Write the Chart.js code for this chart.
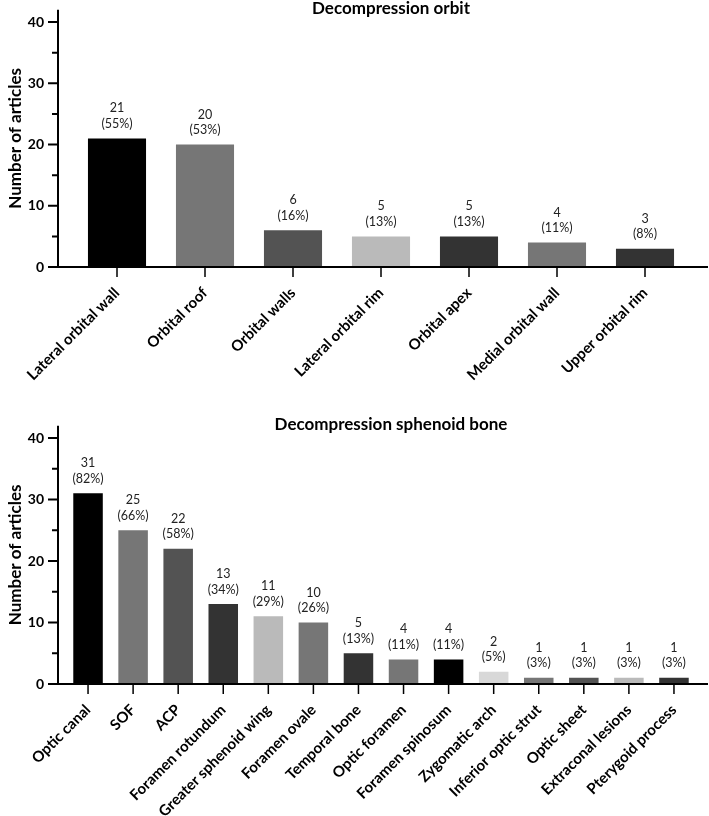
<!DOCTYPE html>
<html><head><meta charset="utf-8">
<script src="https://cdn.jsdelivr.net/npm/chart.js@4/dist/chart.umd.min.js"></script>
<style>
html,body{margin:0;padding:0;background:#fff;}
#w1{position:absolute;left:0;top:0;width:709px;height:400px;}
#w2{position:absolute;left:0;top:400px;width:709px;height:416px;}
</style></head><body>
<div id="w1"><canvas id="c1" width="709" height="400"></canvas></div>
<div id="w2"><canvas id="c2" width="709" height="416"></canvas></div>
<script>
const orbitCategories = ['Lateral orbital wall','Orbital roof','Orbital walls','Lateral orbital rim','Orbital apex','Medial orbital wall','Upper orbital rim'];
const orbitCounts = [21,20,6,5,5,4,3];
const orbitPercents = [55,53,16,13,13,11,8];
const sphenoidCategories = ['Optic canal','SOF','ACP','Foramen rotundum','Greater sphenoid wing','Foramen ovale','Temporal bone','Optic foramen','Foramen spinosum','Zygomatic arch','Inferior optic strut','Optic sheet','Extraconal lesions','Pterygoid process'];
const sphenoidCounts = [31,25,22,13,11,10,5,4,4,2,1,1,1,1];
const sphenoidPercents = [82,66,58,34,29,26,13,11,11,5,3,3,3,3];
const yTickValues = [0,10,20,30,40];
const yMinorTickValues = [5,15,25,35];
const yAxisMax = 42;
const orbitColors = ['#000000','#767676','#535353','#bababa','#333333','#767676','#333333'];
const sphenoidColors = ['#000000','#767676','#535353','#333333','#bababa','#767676','#333333','#767676','#000000','#d8d8d8','#767676','#535353','#bababa','#333333'];

const FONT = 'Lato, "Open Sans", sans-serif';

function makePlugin(title, counts, percents, axX){
  return {
    id: 'deco',
    afterDraw(chart){
      const ctx = chart.ctx, y = chart.scales.y, x = chart.scales.x, ca = chart.chartArea;
      const y0 = y.getPixelForValue(0);
      ctx.save();
      ctx.strokeStyle = '#000';
      ctx.lineWidth = 2;
      ctx.beginPath();
      ctx.moveTo(axX, y.getPixelForValue(yAxisMax));
      ctx.lineTo(axX, y0);
      yTickValues.forEach(v => { const p = y.getPixelForValue(v); ctx.moveTo(axX - 10, p); ctx.lineTo(axX, p); });
      yMinorTickValues.forEach(v => { const p = y.getPixelForValue(v); ctx.moveTo(axX - 6, p); ctx.lineTo(axX, p); });
      ctx.moveTo(axX - 10, y0);
      ctx.lineTo(chart.width - 1, y0);
      ctx.stroke();
      ctx.lineWidth = 1.5;
      ctx.beginPath();
      x.ticks.forEach((t, i) => { const p = x.getPixelForTick(i); ctx.moveTo(p, y0); ctx.lineTo(p, y0 + 10); });
      ctx.stroke();
      // value labels
      ctx.fillStyle = '#222';
      ctx.font = '12.5px ' + FONT;
      ctx.textAlign = 'center';
      ctx.textBaseline = 'middle';
      chart.getDatasetMeta(0).data.forEach((bar, i) => {
        ctx.fillText(String(counts[i]), bar.x, bar.y - 30);
        ctx.fillText('(' + percents[i] + '%)', bar.x, bar.y - 14.5);
      });
      // title
      ctx.fillStyle = '#000';
      ctx.font = 'bold 17px ' + FONT;
      ctx.fillText(title, (ca.left + ca.right) / 2 + 10, ca.top - 1.5);
      ctx.restore();
    }
  };
}

function makeChart(id, title, cats, counts, percents, colors, o){
  return new Chart(document.getElementById(id), {
    type: 'bar',
    data: { labels: cats, datasets: [{ data: counts, backgroundColor: colors, borderWidth: 0, barPercentage: o.barPct, categoryPercentage: 1 }] },
    options: {
      responsive: false, animation: false, devicePixelRatio: 1,
      layout: { padding: { top: o.padTop, right: o.padRight, left: 0, bottom: 0 } },
      plugins: { legend: { display: false }, tooltip: { enabled: false }, title: { display: false } },
      scales: {
        x: {
          grid: { display: false, drawTicks: false }, border: { display: false },
          ticks: { autoSkip: false, maxRotation: 45, minRotation: 45, padding: o.xPad, color: '#000', font: { family: FONT, weight: 'bold', size: 15 } },
          afterFit(s){ s.height = o.xHeight; s.paddingLeft = 0; s.paddingRight = 0; }
        },
        y: {
          min: 0, max: yAxisMax,
          grid: { display: false, drawTicks: false }, border: { display: false },
          afterBuildTicks(s){ s.ticks = yTickValues.map(v => ({ value: v })); },
          ticks: { padding: o.yPad, color: '#000', font: { family: FONT, weight: 'bold', size: 14 } },
          title: { display: true, text: 'Number of articles', color: '#000', font: { family: FONT, weight: 'bold', size: 17 }, padding: { top: 5, bottom: 0 } },
          afterFit(s){ s.width = o.yWidth; s.paddingTop = 0; s.paddingBottom = 0; }
        }
      }
    },
    plugins: [makePlugin(title, counts, percents, 58)]
  });
}

makeChart('c1', 'Decompression orbit', orbitCategories, orbitCounts, orbitPercents, orbitColors,
  { barPct: 0.66, padTop: 9.75, padRight: 20, xHeight: 133, yWidth: 73, yPad: 29, xPad: 17 });
makeChart('c2', 'Decompression sphenoid bone', sphenoidCategories, sphenoidCounts, sphenoidPercents, sphenoidColors,
  { barPct: 0.655, padTop: 25.7, padRight: 12.5, xHeight: 132, yWidth: 65.5, yPad: 21.5, xPad: 17 });
</script>
</body></html>
